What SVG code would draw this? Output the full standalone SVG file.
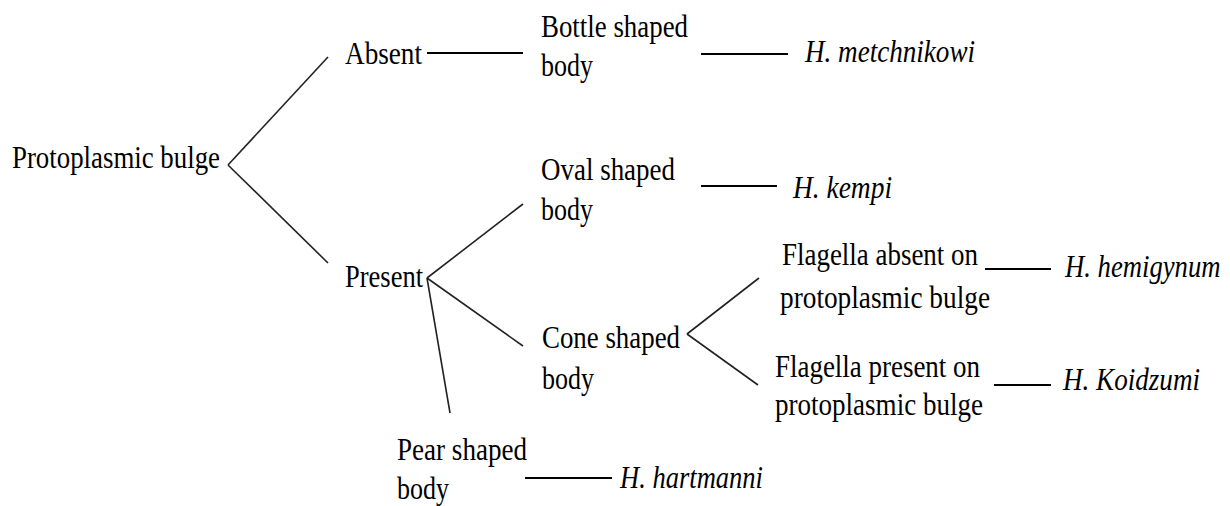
<svg xmlns="http://www.w3.org/2000/svg" width="1230" height="506" viewBox="0 0 1230 506">
<style>
text{font-family:"Liberation Serif","Times New Roman",serif;font-size:31px;fill:#000}
.i{font-style:italic}
.c line{stroke:#222;stroke-width:1.6}
.c line.h{stroke:#000;stroke-width:2}
</style>
<rect width="1230" height="506" fill="#fff"/>
<g class="c" id="connectors">
<line x1="228" y1="165" x2="328" y2="57"/>
<line x1="228" y1="165" x2="328" y2="263"/>
<line class="h" x1="427" y1="53" x2="523" y2="53"/>
<line class="h" x1="701" y1="54" x2="788" y2="54"/>
<line x1="427" y1="278" x2="523" y2="204"/>
<line class="h" x1="701" y1="186" x2="777" y2="186"/>
<line x1="427" y1="278" x2="523" y2="346"/>
<line x1="427" y1="278" x2="450" y2="413"/>
<line x1="687" y1="334" x2="759" y2="278"/>
<line x1="687" y1="334" x2="758" y2="385"/>
<line class="h" x1="985" y1="269" x2="1051" y2="269"/>
<line class="h" x1="994" y1="385" x2="1051" y2="385"/>
<line class="h" x1="525" y1="478" x2="612" y2="478"/>
</g>
<g id="n-root"><text x="12" y="168" textLength="208" lengthAdjust="spacingAndGlyphs">Protoplasmic bulge</text></g>
<g id="n-absent"><text x="345" y="64" textLength="77" lengthAdjust="spacingAndGlyphs">Absent</text></g>
<g id="n-present"><text x="345" y="287" textLength="78" lengthAdjust="spacingAndGlyphs">Present</text></g>
<g id="n-bottle"><text x="541" y="37" textLength="147" lengthAdjust="spacingAndGlyphs">Bottle shaped</text><text x="541" y="76" textLength="52" lengthAdjust="spacingAndGlyphs">body</text></g>
<g id="n-oval"><text x="541" y="180" textLength="134" lengthAdjust="spacingAndGlyphs">Oval shaped</text><text x="541" y="220" textLength="52" lengthAdjust="spacingAndGlyphs">body</text></g>
<g id="n-cone"><text x="542" y="348" textLength="138" lengthAdjust="spacingAndGlyphs">Cone shaped</text><text x="542" y="389" textLength="52" lengthAdjust="spacingAndGlyphs">body</text></g>
<g id="n-pear"><text x="397" y="460" textLength="130" lengthAdjust="spacingAndGlyphs">Pear shaped</text><text x="397" y="499" textLength="52" lengthAdjust="spacingAndGlyphs">body</text></g>
<g id="n-flag-absent"><text x="782" y="265" textLength="196" lengthAdjust="spacingAndGlyphs">Flagella absent on</text><text x="780" y="308" textLength="210" lengthAdjust="spacingAndGlyphs">protoplasmic bulge</text></g>
<g id="n-flag-present"><text x="775" y="377" textLength="205" lengthAdjust="spacingAndGlyphs">Flagella present on</text><text x="775" y="415" textLength="208" lengthAdjust="spacingAndGlyphs">protoplasmic bulge</text></g>
<g id="n-metchnikowi"><text class="i" x="805" y="62" textLength="170" lengthAdjust="spacingAndGlyphs">H. metchnikowi</text></g>
<g id="n-kempi"><text class="i" x="793" y="198" textLength="99" lengthAdjust="spacingAndGlyphs">H. kempi</text></g>
<g id="n-hemigynum"><text class="i" transform="translate(1065,277) scale(0.86,1)">H. hemigynum</text></g>
<g id="n-koidzumi"><text class="i" x="1063" y="390" textLength="137" lengthAdjust="spacingAndGlyphs">H. Koidzumi</text></g>
<g id="n-hartmanni"><text class="i" x="620" y="488" textLength="143" lengthAdjust="spacingAndGlyphs">H. hartmanni</text></g>
</svg>
